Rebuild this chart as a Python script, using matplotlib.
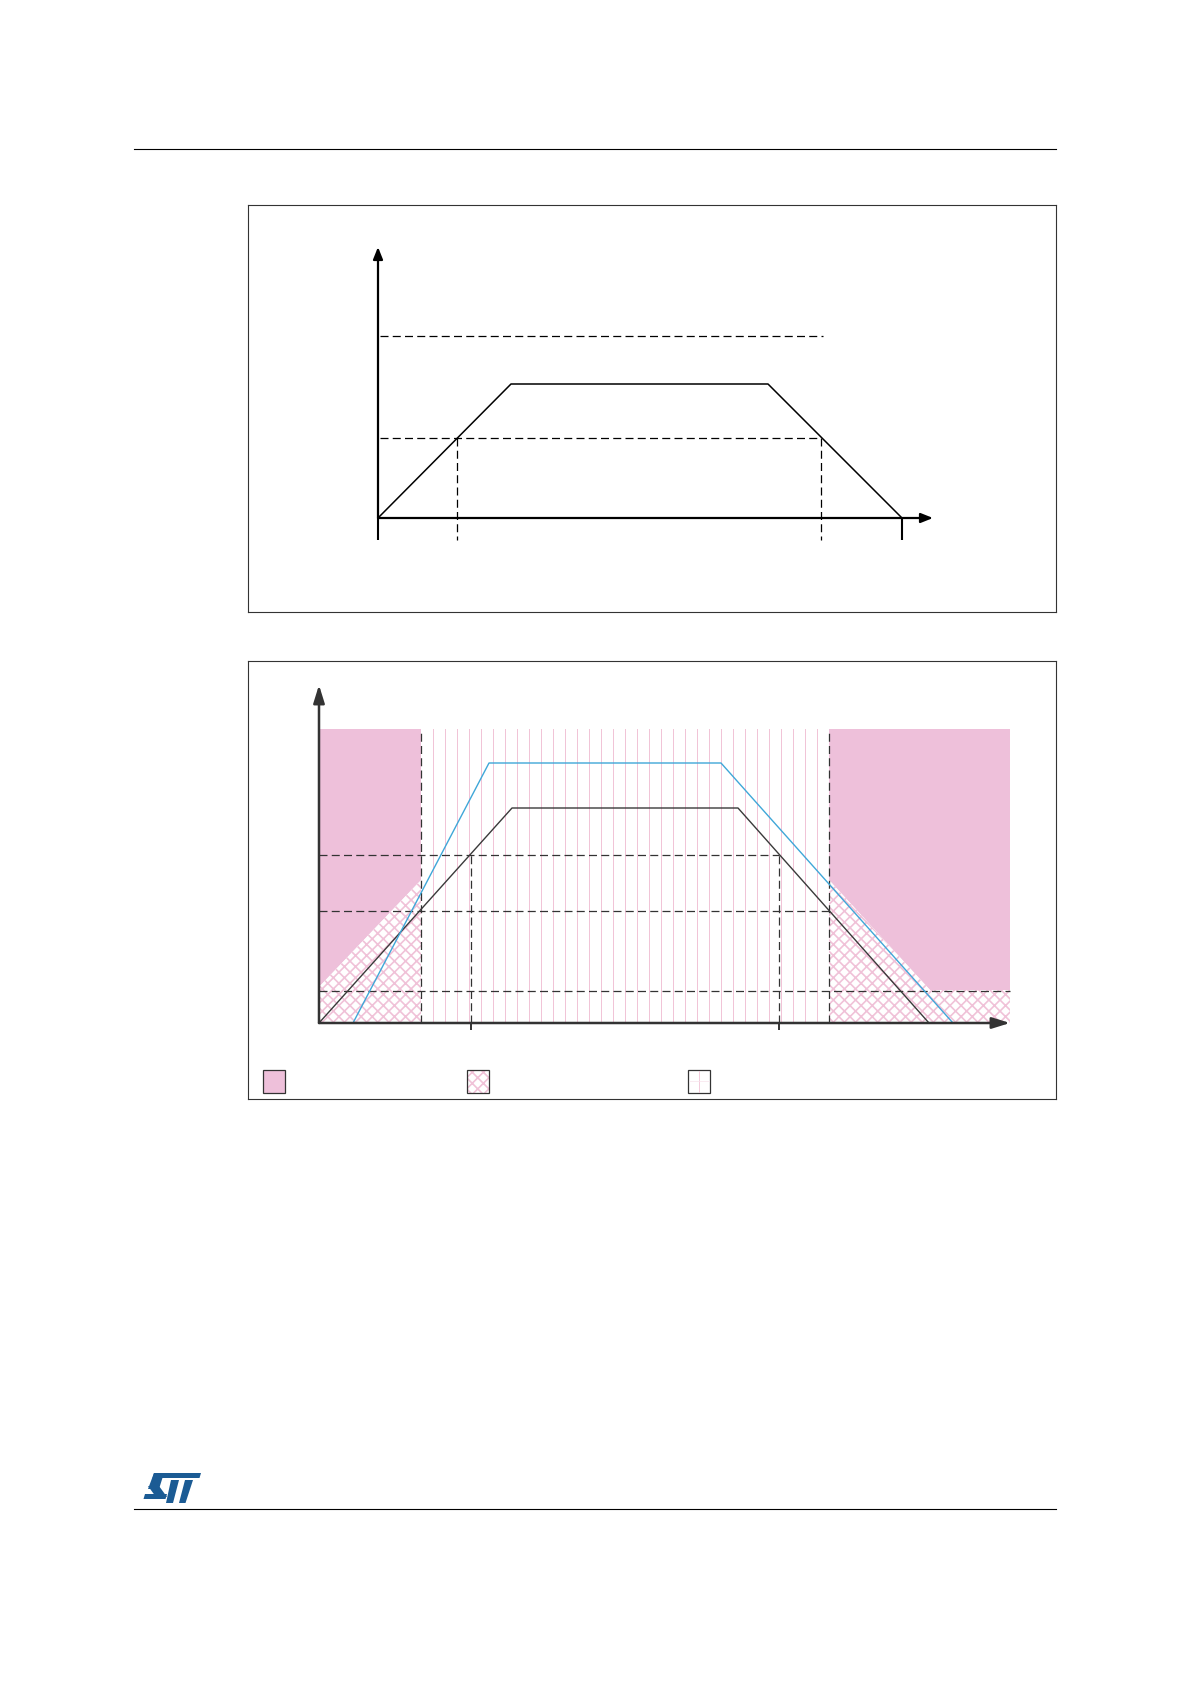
import numpy as np
import matplotlib
matplotlib.use("Agg")
import matplotlib.pyplot as plt
from matplotlib.patches import Polygon, Rectangle

plt.rcParams['hatch.linewidth'] = 1.2

# ---------------- data (schematic units, origin at axes crossing) -------------
# Upper diagram
c1_shape_x = [0, 133, 390, 524]
c1_shape_y = [0, 134, 134, 0]
c1_level_high = 182
c1_level_low = 80
c1_cross_x = [79, 443]
c1_end_tick_x = [0, 524]

# Lower diagram
c2_black_x = [0, 193, 419, 610]
c2_black_y = [0, 215, 215, 0]
c2_blue_x = [34, 170, 402, 634]
c2_blue_y = [0, 260, 260, 0]
c2_zone_top = 294
c2_left_edge = 102
c2_right_edge = 510
c2_right_end = 691
c2_levels = [168, 112, 32]
c2_level_ends = [460, 510, 691]
c2_inner_x = [152, 460]
c2_left_hatch_x = [0, 0, 102, 102]
c2_left_hatch_y = [0, 36, 143, 0]
c2_right_hatch_x = [510, 510, 611, 691, 691]
c2_right_hatch_y = [0, 143, 33, 33, 0]

PINK = '#EEC0DA'
STRIPE = '#F1C3D6'
HATCH = '#F0C2D8'
DARK = '#333333'
BLUE = '#3FA7D8'

W, H = 1190, 1684
fig = plt.figure(figsize=(W / 100, H / 100), dpi=100)
fig.patch.set_facecolor('white')


def box_axes(x0, y0, x1, y1, ox, oy):
    ax = fig.add_axes([x0 / W, 1 - y1 / H, (x1 - x0) / W, (y1 - y0) / H])
    ax.set_xlim(x0 - ox, x1 - ox)
    ax.set_ylim(oy - y1, oy - y0)
    ax.set_xticks([])
    ax.set_yticks([])
    for s in ax.spines.values():
        s.set_color(DARK)
        s.set_linewidth(0.8)
    return ax


# ---------------- page decoration -------------
page = fig.add_axes([0, 0, 1, 1], zorder=-5)
page.set_xlim(0, W)
page.set_ylim(H, 0)
page.axis('off')
page.plot([134, 1056], [149, 149], color='black', lw=0.8)
page.plot([134, 1056], [1509, 1509], color='black', lw=0.8)
LOGO = '#1B5B94'
for pts in [
    [(154, 1473), (201, 1473), (199.5, 1478), (152.5, 1478)],
    [(154, 1473), (164, 1473), (159, 1489), (148, 1489)],
    [(148, 1486), (159, 1486), (167, 1497), (156, 1497)],
    [(145, 1494), (167, 1494), (165.5, 1499), (143.5, 1499)],
    [(171, 1480), (179, 1480), (173, 1503), (166, 1503)],
    [(185, 1480), (193, 1480), (185.5, 1503), (179, 1503)],
]:
    page.add_patch(Polygon(pts, closed=True, facecolor=LOGO, edgecolor='none'))

dash = (0, (6.4, 3.4))

# ---------------- upper diagram -------------
ax1 = box_axes(248, 205, 1056, 612, 378, 518)
ax1.plot(c1_shape_x, c1_shape_y, color='black', lw=1.1, zorder=3)
ax1.plot([2, c1_cross_x[1] + 1.5], [c1_level_high] * 2, color='black', lw=0.9, ls=dash)
ax1.plot([2, c1_cross_x[1]], [c1_level_low] * 2, color='black', lw=0.9, ls=dash)
for cx in c1_cross_x:
    ax1.plot([cx, cx], [c1_level_low, -22], color='black', lw=0.9, ls=dash)
for tx in c1_end_tick_x:
    ax1.plot([tx, tx], [0, -22], color='black', lw=1.5, solid_capstyle='butt')
ax1.annotate('', xy=(555, 0), xytext=(0, 0),
             arrowprops=dict(arrowstyle='-|>,head_length=0.6,head_width=0.24',
                             mutation_scale=12, lw=1.6, color='black',
                             shrinkA=0, shrinkB=0))
ax1.annotate('', xy=(0, 271), xytext=(0, 0),
             arrowprops=dict(arrowstyle='-|>,head_length=0.6,head_width=0.24',
                             mutation_scale=12, lw=1.6, color='black',
                             shrinkA=0, shrinkB=0))

# ---------------- lower diagram -------------
ax2 = box_axes(248, 661, 1056, 1099, 319, 1023)

# solid pink zones
ax2.add_patch(Polygon([(0, c2_left_hatch_y[1]), (0, c2_zone_top), (c2_left_edge, c2_zone_top),
                       (c2_left_edge, c2_left_hatch_y[2])],
                      closed=True, facecolor=PINK, edgecolor='none', zorder=1))
ax2.add_patch(Polygon([(c2_right_edge, c2_zone_top), (c2_right_end, c2_zone_top),
                       (c2_right_end, c2_right_hatch_y[2]),
                       (c2_right_hatch_x[2], c2_right_hatch_y[2]),
                       (c2_right_edge, c2_right_hatch_y[1])],
                      closed=True, facecolor=PINK, edgecolor='none', zorder=1))
# hatched zones
ax2.add_patch(Polygon(list(zip(c2_left_hatch_x, c2_left_hatch_y)), closed=True,
                      facecolor='white', edgecolor=HATCH, lw=0, hatch='xxx', zorder=1))
ax2.add_patch(Polygon(list(zip(c2_right_hatch_x, c2_right_hatch_y)), closed=True,
                      facecolor='white', edgecolor=HATCH, lw=0, hatch='xxx', zorder=1))
# vertical stripes in the middle zone
for sx in np.arange(c2_left_edge + 12, c2_right_edge - 1, 12):
    ax2.plot([sx, sx], [0, c2_zone_top], color=STRIPE, lw=0.7, zorder=1)

# dashed guides
for lv, le in zip(c2_levels, c2_level_ends):
    ax2.plot([0, le], [lv, lv], color=DARK, lw=0.9, ls=dash, zorder=2)
for ex in [c2_left_edge, c2_right_edge]:
    ax2.plot([ex, ex], [0, c2_zone_top], color=DARK, lw=0.9, ls=dash, zorder=2)
for ix in c2_inner_x:
    ax2.plot([ix, ix], [0, c2_levels[0]], color=DARK, lw=0.9, ls=dash, zorder=2)
    ax2.plot([ix, ix], [0, -7], color=DARK, lw=1.4, zorder=4, solid_capstyle='butt')

# curves
ax2.plot(c2_black_x, c2_black_y, color='#3a3a3a', lw=1.0, zorder=3)
ax2.plot(c2_blue_x, c2_blue_y, color=BLUE, lw=1.0, zorder=3)

# axes arrows
ax2.annotate('', xy=(691, 0), xytext=(0, 0),
             arrowprops=dict(arrowstyle='-|>,head_length=0.9,head_width=0.28',
                             mutation_scale=12, lw=1.8, color=DARK,
                             shrinkA=0, shrinkB=0), zorder=5)
ax2.annotate('', xy=(0, 338), xytext=(0, 0),
             arrowprops=dict(arrowstyle='-|>,head_length=0.9,head_width=0.28',
                             mutation_scale=12, lw=1.8, color=DARK,
                             shrinkA=0, shrinkB=0), zorder=5)

# legend swatches
lg_y0, lg_h, lg_w = -70, 23.5, 22.5
ax2.add_patch(Rectangle((-56.5, lg_y0), lg_w, lg_h, facecolor=PINK, edgecolor=DARK, lw=0.9))
ax2.add_patch(Rectangle((147.5, lg_y0), lg_w, lg_h, facecolor='white', edgecolor=HATCH,
                        lw=0, hatch='xxx'))
ax2.add_patch(Rectangle((147.5, lg_y0), lg_w, lg_h, facecolor='none', edgecolor=DARK, lw=0.9))
ax2.add_patch(Rectangle((368.5, lg_y0), lg_w, lg_h, facecolor='white', edgecolor=DARK, lw=0.9))
ax2.plot([368.5 + lg_w / 2] * 2, [lg_y0 + 1, lg_y0 + lg_h - 1], color=STRIPE, lw=0.6)
ax2.plot([369.5, 368.5 + lg_w - 1], [lg_y0 + lg_h / 2] * 2, color='#F7E3EC', lw=0.5)

fig.savefig('out.png', dpi=100)
